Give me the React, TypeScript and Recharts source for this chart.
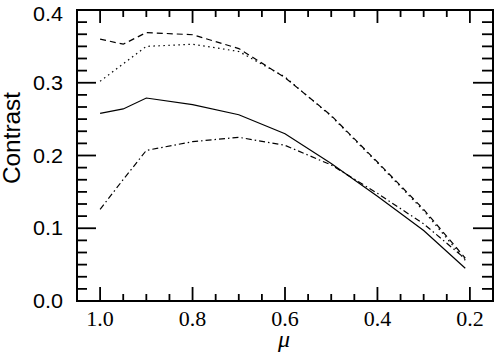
import React from 'react';
import { LineChart, Line, XAxis, YAxis } from 'recharts';

const mu = [1.0, 0.95, 0.9, 0.8, 0.7, 0.6, 0.5, 0.4, 0.3, 0.21];
const solid = [0.258, 0.264, 0.279, 0.270, 0.256, 0.230, 0.189, 0.144, 0.097, 0.045];
const dashed = [0.360, 0.353, 0.369, 0.366, 0.347, 0.307, 0.255, 0.191, 0.126, 0.059];
const dotted = [0.302, 0.326, 0.350, 0.353, 0.343, 0.308, 0.254, 0.190, 0.124, 0.056];
const dashdot = [0.126, 0.167, 0.207, 0.219, 0.225, 0.214, 0.187, 0.148, 0.106, 0.058];

const xMajor = [1.0, 0.8, 0.6, 0.4, 0.2];
const xTicks = [0.2, 0.25, 0.3, 0.35, 0.4, 0.45, 0.5, 0.55, 0.6, 0.65, 0.7, 0.75, 0.8, 0.85, 0.9, 0.95, 1.0];
const yMajor = [0.0, 0.1, 0.2, 0.3, 0.4];
const yMinorPerMajor = 6;

const yTicks: number[] = [];
for (let i = 0; i <= 4 * yMinorPerMajor; i++) yTicks.push(i * 0.1 / yMinorPerMajor);

const data = mu.map((m, i) => ({
  mu: m,
  solid: solid[i],
  dashed: dashed[i],
  dotted: dotted[i],
  dashdot: dashdot[i],
}));

const INK = '#000';
const PLOT = { left: 77, top: 10, right: 493, bottom: 301 };

const isX = (v: number) => xMajor.some((m) => Math.abs(m - v) < 1e-6);
const isY = (v: number) => yMajor.some((m) => Math.abs(m - v) < 1e-6);

const XTicks = (p: any) => {
  const { x, payload } = p;
  const major = isX(payload.value);
  const b = PLOT.bottom;
  const t = PLOT.top;
  const lb = major ? 14 : 7;
  const lt = major ? 13 : 7;
  return (
    <g>
      <line x1={x} x2={x} y1={b} y2={b - lb} stroke={INK} strokeWidth={1.8} />
      <line x1={x} x2={x} y1={t} y2={t + lt} stroke={INK} strokeWidth={1.8} />
      {major && (
        <text x={x} y={b + 25} textAnchor="middle" fontFamily="'Liberation Serif', 'Times New Roman', serif" fontSize={22} fill="#000">
          {payload.value.toFixed(1)}
        </text>
      )}
    </g>
  );
};

const YTicks = (p: any) => {
  const { y, payload } = p;
  const major = isY(payload.value);
  const l = PLOT.left;
  const r = PLOT.right;
  const ll = major ? 19 : 10;
  const lr = major ? 20 : 11;
  return (
    <g>
      <line x1={l} x2={l + ll} y1={y} y2={y} stroke={INK} strokeWidth={1.8} />
      <line x1={r} x2={r - lr} y1={y} y2={y} stroke={INK} strokeWidth={1.8} />
      {major && (
        <text x={l - 14} y={Math.max(y, 14)} dy="0.36em" textAnchor="end" fontFamily="'Liberation Sans', Arial, sans-serif" fontSize={20} fill="#000" textLength={30} lengthAdjust="spacingAndGlyphs">
          {payload.value.toFixed(1)}
        </text>
      )}
    </g>
  );
};

export default function App() {
  return (
    <div style={{ position: 'absolute', left: 0, top: 0, width: 494, height: 352 }}>
      <LineChart width={494} height={352} data={data} margin={{ top: 10, right: 1, bottom: 0, left: 0 }}>
        <XAxis
          dataKey="mu"
          type="number"
          domain={[0.15, 1.05]}
          reversed
          ticks={xTicks}
          interval={0}
          tick={<XTicks />}
          tickLine={false}
          height={51}
          axisLine={false}
        />
        <YAxis
          type="number"
          domain={[0, 0.4]}
          ticks={yTicks}
          interval={0}
          tick={<YTicks />}
          tickLine={false}
          width={77}
          axisLine={false}
        />
        <Line dataKey="solid" stroke="#000" strokeWidth={1.2} dot={false} isAnimationActive={false} />
        <Line dataKey="dashed" stroke="#000" strokeWidth={1.2} strokeDasharray="6 4" dot={false} isAnimationActive={false} />
        <Line dataKey="dotted" stroke="#000" strokeWidth={1.2} strokeDasharray="1.5 3.5" dot={false} isAnimationActive={false} />
        <Line dataKey="dashdot" stroke="#000" strokeWidth={1.2} strokeDasharray="6 3 1.5 3" dot={false} isAnimationActive={false} />
        <text x={19.5} y={138} transform="rotate(-90 19.5 138)" textAnchor="middle" fontFamily="'Liberation Sans', Arial, sans-serif" fontSize={23} fill="#000" textLength={92} lengthAdjust="spacingAndGlyphs">
          Contrast
        </text>
        <text x={284} y={347} textAnchor="middle" fontFamily="'Liberation Serif', 'Times New Roman', serif" fontStyle="italic" fontSize={24} fill="#000">
          μ
        </text>
      </LineChart>
      <div
        style={{
          position: 'absolute',
          left: PLOT.left - 1,
          top: PLOT.top - 1,
          width: PLOT.right - PLOT.left + 2,
          height: PLOT.bottom - PLOT.top + 2,
          border: '2px solid #000',
          boxSizing: 'border-box',
          pointerEvents: 'none',
        }}
      />
    </div>
  );
}
